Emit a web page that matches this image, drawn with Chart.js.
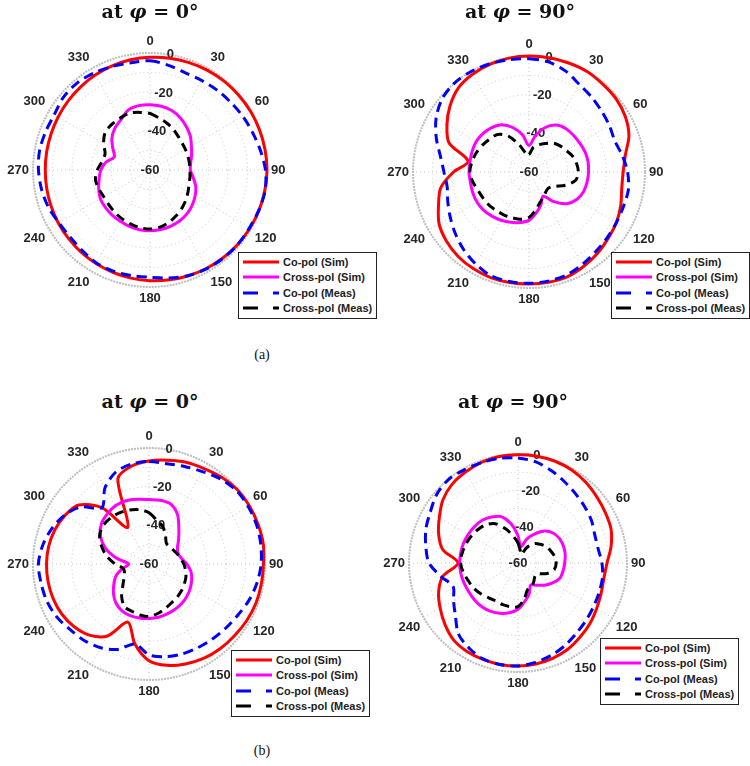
<!DOCTYPE html>
<html>
<head>
<meta charset="utf-8">
<script src="https://cdn.jsdelivr.net/npm/chart.js@4.4.1/dist/chart.umd.min.js"></script>
<style>
  html, body { margin: 0; padding: 0; background: #fff; }
  #page { position: relative; width: 750px; height: 766px; overflow: hidden; }
  .plot { position: absolute; }
  .title { position: absolute; font: bold 19px "DejaVu Serif", "Liberation Serif", serif; color: #111; white-space: nowrap; transform: translateX(-50%); }
  .title i { font-style: italic; }
  .caption { position: absolute; font: 14px "Liberation Serif", serif; color: #111; transform: translateX(-50%); }
  .lg { position: absolute; border: 1.5px solid #222; background: #fff; padding: 1px 4px 2px 4px; }
  .lg .row { height: 15.5px; display: flex; align-items: center; white-space: nowrap; }
  .lg svg { margin-right: 4px; flex: none; }
  .lg span { font: bold 11px "Liberation Sans", Arial, sans-serif; color: #222; }
</style>
</head>
<body>
<div id="page"></div>
<script>
// theta in degrees, 0 at top, clockwise
const thetaDeg = [0,10,20,30,40,50,60,70,80,90,100,110,120,130,140,150,160,170,
  180,190,200,210,220,230,240,250,260,270,280,290,300,310,320,330,340,350];
const rTicks = [-60, -40, -20, 0];

// (a) phi = 0
const a0CoSim = [-2.2,-1.8,-1.4,-1,-0.7,-0.5,-0.3,-0.2,-0.1,0,-0.2,-0.4,-0.7,-1,-1.4,-1.8,-2.3,-2.8,
  -3.2,-3.7,-4.2,-4.6,-5,-5.4,-5.7,-6,-6.2,-6.3,-6.2,-6,-5.6,-5.1,-4.5,-3.8,-3.2,-2.6];
const a0CrossSim = [-26.5,-26.8,-27.5,-29,-31,-33,-35.5,-37.3,-38.8,-39.3,-37.5,-35,-33.3,-31.8,-30.6,-29.8,-29.3,-29,
  -28.8,-28.9,-29.2,-29.6,-29.8,-30.1,-30.6,-32,-33.5,-34.8,-37,-40.5,-38,-34.5,-32,-30.2,-27.3,-26.5];
const a0CoMeas = [-4,-5.5,-7,-7,-6.5,-6,-5,-4,-2.5,-0.8,0,-0.5,-1,-1,-1.2,-1.6,-2.4,-3.8,
  -5,-5,-4.8,-5,-6,-6.5,-6,-4.5,-3.5,-2.8,-2.5,-3,-3.3,-2,-1.8,-2.5,-3.5,-4.2];
const a0CrossMeas = [-31,-33,-34.5,-36,-37.5,-38.5,-39,-39.3,-39.5,-39.5,-39.2,-38.7,-37.5,-36,-34.5,-33,-31.5,-30.3,
  -29.7,-30,-30.6,-31.2,-31.8,-32.4,-32.6,-32,-31.6,-33,-35,-35.5,-32.5,-30,-29.5,-29.3,-29,-30];

// (a) phi = 90
const a90CoSim = [0,0,0,0,-0.7,-1.2,-2.5,-5,-9.4,-11.3,-11.3,-9.5,-7.8,-6.6,-5,-3.6,-2.3,-2.1,
  -2.1,-2,-1.9,-2.3,-3,-4.3,-6.3,-10.2,-13.7,-21,-28,-16,-11,-6.7,-3.2,-1.6,-0.7,-0.2];
const a90CrossSim = [-46.3,-41,-35.5,-32,-30.6,-30.2,-29.8,-29.2,-29,-29.2,-29.5,-30,-31.5,-34.5,-40,-45.5,-42,-38.5,
  -35,-33.5,-32.3,-31.2,-30.2,-29.3,-28.9,-29,-29.2,-29,-29,-28.7,-28.5,-29,-30,-31.8,-35.5,-40.5];
const a90CoMeas = [-1.4,-2.2,-4.5,-7.8,-9.5,-11,-12,-12.8,-11,-9,-7.8,-8,-7.8,-7.2,-6.3,-4.8,-3.3,-2.7,
  -2.4,-2.5,-2.8,-5,-7.5,-10.3,-13,-15.3,-17,-16,-13.5,-9,-4.5,-1.3,0,0,-0.5,-1];
const a90CrossMeas = [-51,-47,-45,-43,-40.5,-39,-37.8,-36,-35,-34.5,-35.5,-40,-45,-47,-46.5,-45,-43.3,-40,
  -36.5,-35.2,-34.8,-34.3,-33.9,-33.2,-32.7,-32,-30.5,-29.4,-30,-31,-32.2,-33.5,-34.7,-38.5,-45,-50];

// (b) phi = 0
const b0CoSim = [-6.7,-5.5,-4,-3,-1.5,-0.3,0,0,0,-0.8,-1,-1.1,-1.6,-2.3,-2.8,-3.6,-5,-6.8,
  -10,-18,-28,-17,-12,-9.5,-8,-7.3,-7,-7,-7.3,-8.2,-9.8,-12.5,-22,-38,-13,-8.5];
const b0CrossSim = [-26.7,-26.5,-27,-30.5,-36,-40,-43,-44,-43,-40.5,-38,-36.5,-35.3,-34.3,-33.5,-33,-32.5,-32,
  -31.8,-31.6,-31.6,-32,-33.5,-36,-39,-41.8,-46,-49.5,-43,-36,-31,-27.8,-26.3,-25.2,-25.2,-26];
const b0CoMeas = [-7,-7.3,-6.3,-4.8,-2.5,-1,-0.7,-0.8,-1.3,-2,-3.3,-5,-7,-8.3,-9.2,-9.9,-10.4,-11.3,
  -13,-18,-13,-10,-8.2,-7,-5,-3.8,-3.3,-2.8,-4.2,-6.5,-9.5,-14,-22,-14.5,-9.5,-7.5];
const b0CrossMeas = [-33.5,-37,-39.3,-43,-46,-46,-45.5,-44.5,-43.5,-42,-40.8,-39.7,-39,-38.2,-37.5,-36.8,-35.5,-34,
  -32.8,-33.2,-34,-34.6,-38,-42.3,-45,-46.5,-46.5,-42.5,-38,-34,-30.5,-29,-29,-29.4,-30.3,-31.5];

// (b) phi = 90
const b90CoSim = [-0.4,-0.3,-0.4,-0.9,-2,-3.4,-4.5,-5.5,-8,-11,-12,-11.3,-10,-8.3,-6.8,-5.2,-4.2,-3.6,
  -3.3,-3.3,-3.5,-3.8,-4.8,-7.5,-10.5,-13.5,-18,-27,-18,-13.5,-10,-6,-3.5,-2.2,-1,-0.5];
const b90CrossSim = [-45,-51,-46,-41.5,-37,-34.5,-33.5,-33.3,-33.6,-34.3,-34.8,-35.5,-38,-41,-44,-46,-42,-38.5,
  -34.5,-32.2,-30.5,-29.4,-28.8,-28.6,-28.6,-28.3,-28,-27.9,-28,-28.1,-28.4,-28.8,-29.3,-30.8,-32.8,-38];
const b90CoMeas = [-2.2,-3.5,-6,-8.5,-10.5,-12,-13.3,-15,-15.2,-13.8,-12.8,-12.5,-12,-11,-9.8,-7.8,-6,-4.5,
  -3.3,-3.3,-3.8,-6,-9,-15,-19,-22,-17,-11,-8.5,-6,-4.2,-1.5,-0.2,-0.8,-1.2,-1.5];
const b90CrossMeas = [-49,-53,-55,-50,-46,-44,-42,-40.8,-39.5,-39,-39.7,-43,-48,-48,-46.5,-45,-44.5,-40,
  -36,-35.6,-35.6,-35.8,-35,-33.5,-32,-31,-29.5,-28.4,-28.8,-29.5,-30.3,-31.3,-32.5,-35,-40,-45];

const seriesNames = ["Co-pol (Sim)", "Cross-pol (Sim)", "Co-pol (Meas)", "Cross-pol (Meas)"];
const seriesColors = ["#ff0000", "#ff00ff", "#0000ff", "#000000"];
const seriesDash = [[], [], [10, 6], [9, 6]];

const S = 300;
const plots = [
  { cx: 147, cy: 171, R: 117, title: "0", data: [a0CoSim, a0CrossSim, a0CoMeas, a0CrossMeas], tx: 150, ty: 0,   lx: 238, ly: 252 },
  { cx: 526, cy: 173, R: 116, title: "90", data: [a90CoSim, a90CrossSim, a90CoMeas, a90CrossMeas], tx: 520, ty: 0, lx: 611, ly: 252 },
  { cx: 146, cy: 565, R: 116, title: "0", data: [b0CoSim, b0CrossSim, b0CoMeas, b0CrossMeas], tx: 150, ty: 390, lx: 231, ly: 650 },
  { cx: 515, cy: 564, R: 109, title: "90", data: [b90CoSim, b90CrossSim, b90CoMeas, b90CrossMeas], tx: 513, ty: 390, lx: 600, ly: 638 }
];

const page = document.getElementById("page");

// r tick labels drawn along the 10 degree line, like the original
const rTickLabels = {
  id: "rTickLabels",
  beforeDatasetsDraw(chart) {
    const s = chart.scales.r, ctx = chart.ctx;
    const a = 10 * Math.PI / 180;
    ctx.save();
    ctx.font = 'bold 13px "Liberation Sans", Arial, sans-serif';
    ctx.fillStyle = "#262626";
    ctx.textAlign = "center";
    ctx.textBaseline = "middle";
    rTicks.forEach(v => {
      const d = s.getDistanceFromCenterForValue(v);
      ctx.fillText(String(v), s.xCenter + d * Math.sin(a), s.yCenter - d * Math.cos(a));
    });
    ctx.restore();
  }
};

plots.forEach(p => {
  const wrap = document.createElement("div");
  wrap.className = "plot";
  wrap.style.left = (p.cx - S / 2) + "px";
  wrap.style.top = (p.cy - S / 2) + "px";
  const canvas = document.createElement("canvas");
  canvas.width = S; canvas.height = S;
  wrap.appendChild(canvas);
  page.appendChild(wrap);

  const pad = S / 2 - 4 - 21.7 - p.R;

  new Chart(canvas, {
    type: "radar",
    data: {
      labels: thetaDeg,
      datasets: p.data.map((vals, i) => ({
        label: seriesNames[i],
        data: vals,
        borderColor: seriesColors[i],
        borderWidth: 3,
        borderDash: seriesDash[i],
        pointRadius: 0,
        fill: false,
        tension: 0.3,
        order: 4 - i
      }))
    },
    options: {
      responsive: false,
      animation: false,
      layout: { padding: pad },
      plugins: { legend: { display: false }, tooltip: { enabled: false } },
      scales: {
        r: {
          min: -60, max: 0,
          ticks: { display: false, stepSize: 10 },
          grid: {
            circular: true,
            color: ctx => ctx.tick.value === 0 ? "#bdbdbd" : "#c6c6c6",
            lineWidth: ctx => ctx.tick.value === 0 ? 2 : 1
          },
          border: { dash: ctx => ctx.tick.value === 0 ? [2, 1] : [1, 3] },
          angleLines: {
            color: ctx => ctx.index % 3 === 0 ? "#c6c6c6" : "rgba(0,0,0,0)",
            lineWidth: 1,
            borderDash: [1, 3]
          },
          pointLabels: {
            callback: (l, i) => thetaDeg[i] % 30 === 0 ? String(thetaDeg[i]) : "",
            font: { family: '"Liberation Sans", Arial, sans-serif', size: 13, weight: "bold" },
            color: "#262626",
            padding: 4
          }
        }
      }
    },
    plugins: [rTickLabels]
  });

  const t = document.createElement("div");
  t.className = "title";
  t.style.left = p.tx + "px";
  t.style.top = p.ty + "px";
  t.innerHTML = "at <i>\u03C6</i> = " + p.title + "\u00B0";
  page.appendChild(t);

  const lg = document.createElement("div");
  lg.className = "lg";
  lg.style.left = p.lx + "px";
  lg.style.top = p.ly + "px";
  seriesNames.forEach((name, i) => {
    const row = document.createElement("div");
    row.className = "row";
    const dash = seriesDash[i].length ? 'stroke-dasharray="15 15"' : "";
    row.innerHTML = '<svg width="36" height="6"><line x1="0" y1="3" x2="36" y2="3" stroke="' + seriesColors[i] +
      '" stroke-width="3" ' + dash + '/></svg><span>' + name + '</span>';
    lg.appendChild(row);
  });
  page.appendChild(lg);
});

[["(a)", 262, 347], ["(b)", 262, 743]].forEach(([txt, x, y]) => {
  const c = document.createElement("div");
  c.className = "caption";
  c.style.left = x + "px";
  c.style.top = y + "px";
  c.textContent = txt;
  page.appendChild(c);
});
</script>
</body>
</html>
